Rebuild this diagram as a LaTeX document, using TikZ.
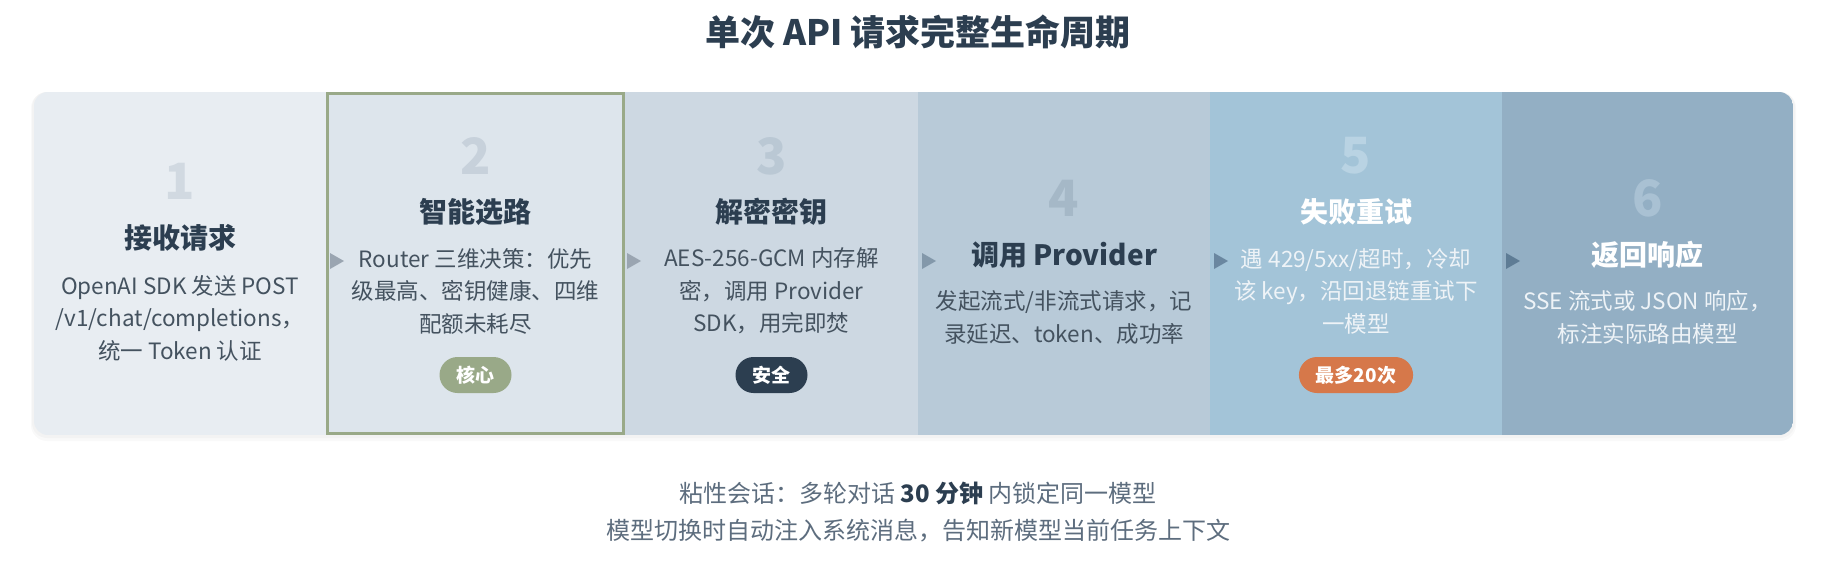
\documentclass[tikz,border=0pt]{standalone}
\usepackage{fontspec}
\setmainfont{Noto Sans CJK SC}
\usetikzlibrary{calc}
\definecolor{ink}{HTML}{2C3E50}
\definecolor{desc}{HTML}{44525F}
\definecolor{descw}{HTML}{EEF3F7}
\definecolor{foot}{HTML}{5D6D7E}
\definecolor{bgA}{HTML}{E8EDF2}
\definecolor{bgB}{HTML}{DDE5EC}
\definecolor{bgC}{HTML}{CDD8E2}
\definecolor{bgD}{HTML}{B8CAD8}
\definecolor{bgE}{HTML}{A3C4D8}
\definecolor{bgF}{HTML}{93AFC4}
\definecolor{numA}{HTML}{D1D9E1}
\definecolor{numB}{HTML}{C7D1DB}
\definecolor{numC}{HTML}{BAC8D4}
\definecolor{numD}{HTML}{A5B8C7}
\definecolor{numE}{HTML}{B9D3E3}
\definecolor{numF}{HTML}{A9C1D3}
\definecolor{sage}{HTML}{99A988}
\definecolor{orange}{HTML}{D6784A}
\definecolor{arA}{HTML}{9AA5B1}
\definecolor{arB}{HTML}{8398AA}
\definecolor{arC}{HTML}{6A87A0}
\definecolor{arD}{HTML}{5E7C95}
\tikzset{
  colbox/.style={rectangle, inner sep=0pt, outer sep=0pt, anchor=north west, minimum height=343pt, draw=none},
  bignum/.style={font=\fontsize{50}{50}\selectfont\bfseries, inner sep=0pt},
  ttl/.style={font=\fontsize{28}{28}\selectfont\bfseries, text=ink, inner sep=0pt},
  dsc/.style={font=\fontsize{22.5}{32.5}\selectfont, text=desc, align=center, inner sep=0pt},
  badge/.style={rounded corners=18pt, minimum height=36pt, inner xsep=17pt, inner ysep=0pt, text=white, font=\fontsize{19}{19}\selectfont\bfseries}
}
\begin{document}
\begin{tikzpicture}[x=1pt, y=-1pt]
\useasboundingbox (0,0) rectangle (1826,562);
\fill[white] (0,0) rectangle (1826,562);
% title
\node[font=\fontsize{35}{35}\selectfont\bfseries, text=ink, inner sep=0pt] (title) at (918,32) {单次 API 请求完整生命周期};
% soft shadow
\fill[black, opacity=0.025, rounded corners=16pt] (31,92) rectangle (1796,441);
\fill[black, opacity=0.025, rounded corners=15pt] (32,92) rectangle (1795,438);
% columns
\begin{scope}
\clip[rounded corners=14pt] (34,92) rectangle (1793,435);
\node[colbox, fill=bgA, minimum width=292pt] (c1) at (34,92) {};
\node[colbox, fill=bgB, minimum width=299pt] (c2) at (326,92) {};
\node[colbox, fill=bgC, minimum width=293pt] (c3) at (625,92) {};
\node[colbox, fill=bgD, minimum width=292pt] (c4) at (918,92) {};
\node[colbox, fill=bgE, minimum width=292pt] (c5) at (1210,92) {};
\node[colbox, fill=bgF, minimum width=291pt] (c6) at (1502,92) {};
\end{scope}
\draw[sage, line width=3pt] (327.5,93.5) rectangle (623.5,433.5);
% arrows
\fill[arA] ($(c2.north west)+(4,161)$) -- ++(0,16) -- ++(14,-8) -- cycle;
\fill[arA] ($(c3.north west)+(2,161)$) -- ++(0,16) -- ++(14,-8) -- cycle;
\fill[arB] ($(c4.north west)+(4,161)$) -- ++(0,16) -- ++(14,-8) -- cycle;
\fill[arC] ($(c5.north west)+(4,161)$) -- ++(0,16) -- ++(14,-8) -- cycle;
\fill[arD] ($(c6.north west)+(4,161)$) -- ++(0,16) -- ++(14,-8) -- cycle;
% column 1
\node[bignum, text=numA] (n1) at (180,181) {1};
\node[ttl] (t1) at (180,238) {接收请求};
\node[dsc] (d1) at (180,318) {OpenAI SDK 发送 POST\\/v1/chat/completions，\\统一 Token 认证};
% column 2
\node[bignum, text=numB] (n2) at (475.5,156) {2};
\node[ttl] (t2) at (475.5,212) {智能选路};
\node[dsc] (d2) at (475.5,291) {Router 三维决策：优先\\级最高、密钥健康、四维\\配额未耗尽};
\node[badge, fill=sage] (b2) at (475.5,375) {核心};
% column 3
\node[bignum, text=numC] (n3) at (771.5,156) {3};
\node[ttl] (t3) at (771.5,212) {解密密钥};
\node[dsc] (d3) at (771.5,291) {AES-256-GCM 内存解\\密，调用 Provider\\SDK，用完即焚};
\node[badge, fill=ink] (b3) at (771.5,375) {安全};
% column 4
\node[bignum, text=numD] (n4) at (1064,198) {4};
\node[ttl] (t4) at (1064,255) {调用 Provider};
\node[dsc] (d4) at (1064,317.5) {发起流式/非流式请求，记\\录延迟、token、成功率};
% column 5
\node[bignum, text=numE] (n5) at (1356,156) {5};
\node[ttl, text=white] (t5) at (1356,212) {失败重试};
\node[dsc, text=descw] (d5) at (1356,291) {遇 429/5xx/超时，冷却\\该 key，沿回退链重试下\\一模型};
\node[badge, fill=orange] (b5) at (1356,375) {最多20次};
% column 6
\node[bignum, text=numF] (n6) at (1647.5,198) {6};
\node[ttl, text=white] (t6) at (1647.5,255) {返回响应};
\node[dsc, text=descw] (d6) at (1647.5,317.5) {SSE 流式或 JSON 响应，\\标注实际路由模型};
% footer
\node[font=\fontsize{24}{24}\selectfont, text=foot, inner sep=0pt] (f1) at (918,493) {粘性会话：多轮对话 {\bfseries\color{ink}30 分钟} 内锁定同一模型};
\node[font=\fontsize{24}{24}\selectfont, text=foot, inner sep=0pt] (f2) at (918,531) {模型切换时自动注入系统消息，告知新模型当前任务上下文};
\end{tikzpicture}
\end{document}
